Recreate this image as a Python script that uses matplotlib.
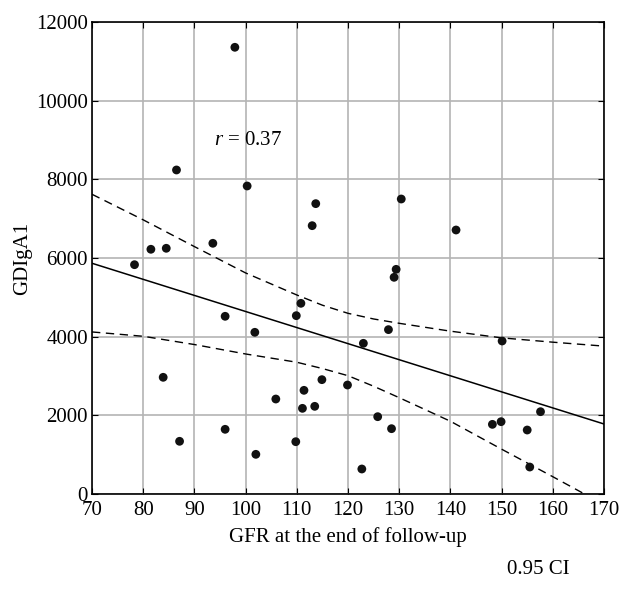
import numpy as np
import matplotlib
matplotlib.use("Agg")
import matplotlib.pyplot as plt

plt.rcParams['font.family'] = ['Liberation Serif', 'DejaVu Serif']
plt.rcParams['mathtext.fontset'] = 'custom'
plt.rcParams['mathtext.it'] = 'Liberation Serif:italic'
plt.rcParams['mathtext.rm'] = 'Liberation Serif'

# GFR (x) and GDIgA1 (y)
gfr = [78.3, 81.5, 84.5, 83.9, 87.1, 86.5, 93.6, 96.0, 96.0, 97.9,
       100.3, 101.8, 102.0, 105.9, 109.9, 110.8, 109.8, 111.4, 111.1, 113.5,
       113.7, 113.0, 114.9, 119.9, 123.0, 122.7, 125.8, 127.9, 128.5, 129.0,
       129.4, 130.4, 141.1, 148.2, 149.9, 150.1, 155.0, 155.5, 157.6]
gdiga1 = [5830, 6222, 6247, 2967, 1340, 8238, 6374, 4518, 1645, 11357,
          7831, 4111, 1009, 2415, 4534, 4848, 1330, 2636, 2178, 2229,
          7382, 6822, 2907, 2771, 3831, 636, 1966, 4179, 1661, 5509,
          5712, 7500, 6712, 1771, 1839, 3890, 1627, 686, 2093]

# regression line and 0.95 CI bands
fit_x = [70, 170]
fit_y = [5866, 1780]
ci_x = [70, 80, 90, 100, 110, 115, 120, 125, 130, 140, 150, 160, 170]
ci_upper = [7620, 6970, 6290, 5620, 5060, 4800, 4594, 4450, 4340, 4140, 3970, 3860, 3760]
ci_lower = [4120, 4010, 3800, 3560, 3350, 3190, 3008, 2740, 2449, 1850, 1140, 440, -270]

fig = plt.figure(figsize=(6.23, 6.06), dpi=100)
ax = fig.add_axes([0.1477, 0.1848, 0.8218, 0.7789])

ax.grid(True, color='#b4b4b4', linewidth=1.2)
ax.set_axisbelow(True)

ax.plot(fit_x, fit_y, color='black', linewidth=1.1)
ax.plot(ci_x, ci_upper, color='black', linewidth=1.0, dashes=(6, 4))
ax.plot(ci_x, ci_lower, color='black', linewidth=1.0, dashes=(6, 4))
ax.scatter(gfr, gdiga1, s=40, color='#111111', zorder=3, edgecolors='none')

ax.set_xlim(70, 170)
ax.set_ylim(0, 12000)
ax.set_xticks(np.arange(70, 171, 10))
ax.set_yticks(np.arange(0, 12001, 2000))
ax.tick_params(direction='in', top=True, right=True, labelsize=15, length=4)
ax.tick_params(axis='x', pad=5)
ax.tick_params(axis='y', pad=3)
for s in ax.spines.values():
    s.set_linewidth(1.2)

ax.set_xlabel('GFR at the end of follow-up', fontsize=15, labelpad=5)
ax.set_ylabel('GDIgA1', fontsize=15, labelpad=3)

ax.text(93.8, 8990, r'$r$ = 0.37', fontsize=15, va='center', ha='left')
fig.text(538 / 623, 1 - 569 / 606, '0.95 CI', fontsize=15, ha='center', va='center')

fig.savefig('out.png', dpi=100)
